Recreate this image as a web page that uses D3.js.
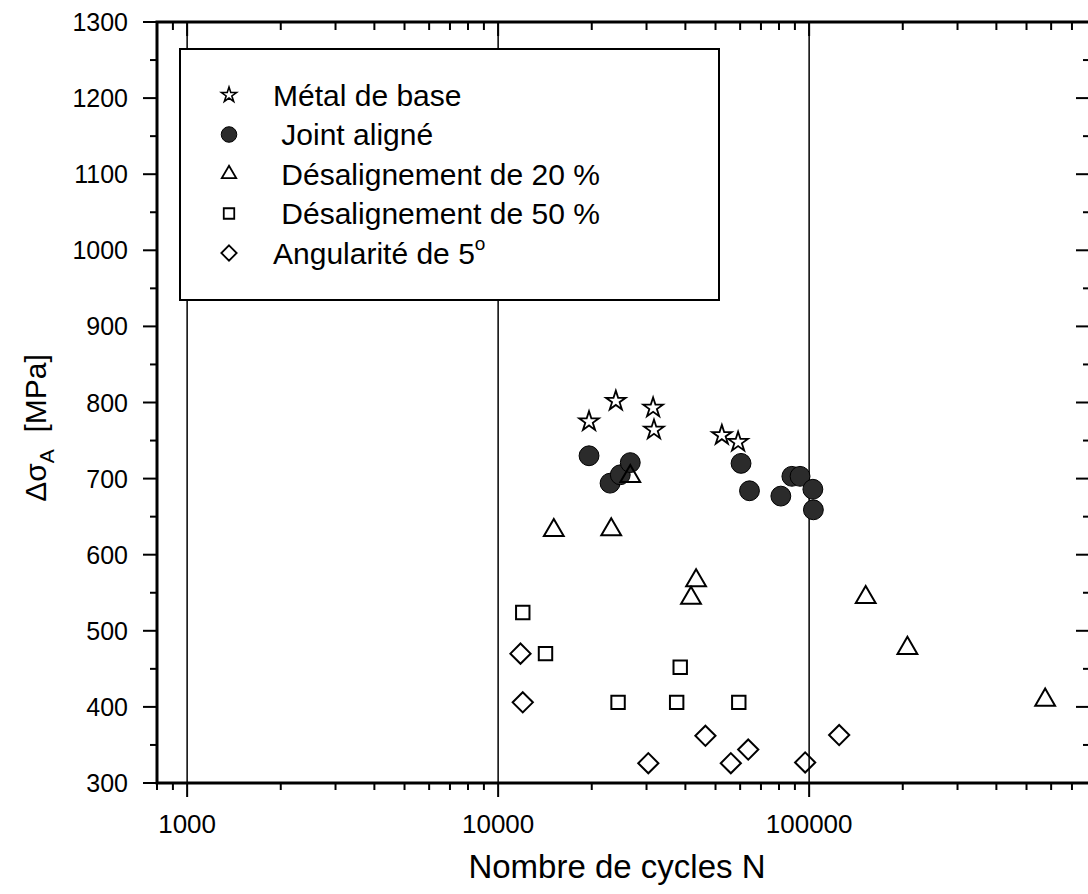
<!DOCTYPE html>
<html>
<head>
<meta charset="utf-8">
<script src="https://cdn.jsdelivr.net/npm/d3@7"></script>
<style>
  html, body { margin: 0; padding: 0; background: #fff; }
  svg { display: block; font-family: Arial, "Liberation Sans", Helvetica, sans-serif; }
  text { white-space: pre; }
</style>
</head>
<body>
<svg id="chart" width="1088" height="894"></svg>
<script>
// Fatigue test results: stress range vs number of cycles
const metalBaseN = [19600, 23900, 31500, 31700, 52400, 59100];
const metalBaseS = [775, 802, 793, 764, 757, 748];

const jointAligneN = [19600, 22900, 24700, 26600, 60400, 64300, 81100, 88000, 93500, 102800, 103200];
const jointAligneS = [730, 694, 705, 721, 720, 684, 677, 703, 703, 686, 659];

const desal20N = [15100, 23100, 26600, 41700, 43300, 152000, 207000, 574000];
const desal20S = [632, 633, 703, 543, 566, 544, 477, 409];

const desal50N = [12000, 14200, 24300, 37500, 38500, 59400];
const desal50S = [524, 470, 406, 406, 452, 406];

const angul5N = [11800, 12000, 30400, 46400, 56000, 63700, 97100, 124900];
const angul5S = [470, 406, 326, 362, 326, 344, 327, 363];

const legendLabels = ["Métal de base", " Joint aligné", " Désalignement de 20 %", " Désalignement de 50 %", "Angularité de 5"];

const xLabelTicks = [1000, 10000, 100000];
const yLabelTicks = [300, 400, 500, 600, 700, 800, 900, 1000, 1100, 1200, 1300];
const yMinorTicks = [350, 450, 550, 650, 750, 850, 950, 1050, 1150, 1250];

const xTitle = "Nombre de cycles N";

const svg = d3.select("#chart");
const plotLeft = 157, plotRight = 1090, plotTop = 22, plotBottom = 783;

const x = d3.scaleLog().domain([800, 800000]).range([plotLeft, plotRight]);
const y = d3.scaleLinear().domain([300, 1300]).range([plotBottom, plotTop]);

const ink = "#000";

// vertical grid lines at the decades
svg.append("g").selectAll("line").data(xLabelTicks).join("line")
  .attr("x1", d => x(d)).attr("x2", d => x(d))
  .attr("y1", plotTop).attr("y2", plotBottom)
  .attr("stroke", "#111").attr("stroke-width", 1.6);

// x ticks (log): majors at decades, minors at 2..9
const xAll = x.ticks().filter(d => d >= 800 && d <= 800000);
const isMajor = d => Math.abs(Math.log10(d) - Math.round(Math.log10(d))) < 1e-9;

const ticksG = svg.append("g").attr("stroke", ink).attr("stroke-width", 2);
// bottom, outward
ticksG.selectAll(".xb").data(xAll).join("line").attr("class", "xb")
  .attr("x1", d => x(d)).attr("x2", d => x(d))
  .attr("y1", plotBottom).attr("y2", d => plotBottom + (isMajor(d) ? 14 : 7));
// top, inward
ticksG.selectAll(".xt").data(xAll).join("line").attr("class", "xt")
  .attr("x1", d => x(d)).attr("x2", d => x(d))
  .attr("y1", plotTop).attr("y2", d => plotTop + (isMajor(d) ? 14 : 8));
// left, outward
ticksG.selectAll(".yl").data(yLabelTicks).join("line").attr("class", "yl")
  .attr("y1", d => y(d)).attr("y2", d => y(d))
  .attr("x1", plotLeft).attr("x2", plotLeft - 14);
ticksG.selectAll(".ylm").data(yMinorTicks).join("line").attr("class", "ylm")
  .attr("y1", d => y(d)).attr("y2", d => y(d))
  .attr("x1", plotLeft).attr("x2", plotLeft - 7);
// right, inward
ticksG.selectAll(".yr").data(yLabelTicks).join("line").attr("class", "yr")
  .attr("y1", d => y(d)).attr("y2", d => y(d))
  .attr("x1", plotRight).attr("x2", plotRight - 14);
ticksG.selectAll(".yrm").data(yMinorTicks).join("line").attr("class", "yrm")
  .attr("y1", d => y(d)).attr("y2", d => y(d))
  .attr("x1", plotRight).attr("x2", plotRight - 7);

// frame
svg.append("rect")
  .attr("x", plotLeft).attr("y", plotTop)
  .attr("width", plotRight - plotLeft).attr("height", plotBottom - plotTop)
  .attr("fill", "none").attr("stroke", ink).attr("stroke-width", 3);

// tick labels
svg.append("g").selectAll("text").data(yLabelTicks).join("text")
  .attr("x", plotLeft - 29).attr("y", d => y(d))
  .attr("dy", "0.36em")
  .attr("text-anchor", "end")
  .attr("font-size", 25)
  .attr("fill", ink)
  .text(d => d);

svg.append("g").selectAll("text").data(xLabelTicks).join("text")
  .attr("x", d => x(d)).attr("y", plotBottom + 50)
  .attr("text-anchor", "middle")
  .attr("font-size", 26)
  .attr("fill", ink)
  .text(d => d);

// axis titles
svg.append("text")
  .attr("x", 617).attr("y", 878)
  .attr("text-anchor", "middle")
  .attr("font-size", 33)
  .attr("fill", ink)
  .text(xTitle);

const yTitle = svg.append("text")
  .attr("transform", "translate(46,428) rotate(-90)")
  .attr("text-anchor", "middle")
  .attr("font-size", 30)
  .attr("fill", ink);
yTitle.append("tspan").text("Δσ");
yTitle.append("tspan").attr("font-size", 21).attr("dy", 8).text("A");
yTitle.append("tspan").attr("dy", -8).text("  [MPa]");

// marker symbols per series
const markers = [
  { N: metalBaseN, S: metalBaseS, path: d3.symbol().type(d3.symbolStar).size(120)(), fill: "none", sw: 1.8 },
  { N: jointAligneN, S: jointAligneS, path: d3.symbol().type(d3.symbolCircle).size(310)(), fill: "#2b2b2b", sw: 1 },
  { N: desal20N, S: desal20S, path: d3.symbol().type(d3.symbolTriangle).size(170)(), fill: "none", sw: 2 },
  { N: desal50N, S: desal50S, path: d3.symbol().type(d3.symbolSquare).size(180)(), fill: "none", sw: 2 },
  { N: angul5N, S: angul5S, path: d3.symbol().type(d3.symbolDiamond2).size(260)(), fill: "none", sw: 2 }
];

markers.forEach(m => {
  svg.append("g").selectAll("path").data(d3.range(m.N.length)).join("path")
    .attr("d", m.path)
    .attr("transform", k => `translate(${x(m.N[k])},${y(m.S[k])})`)
    .attr("fill", m.fill)
    .attr("stroke", ink)
    .attr("stroke-width", m.sw)
    .attr("stroke-linejoin", "miter");
});

// legend
const lg = svg.append("g");
lg.append("rect")
  .attr("x", 180).attr("y", 49).attr("width", 539).attr("height", 251)
  .attr("fill", "#fff").attr("stroke", ink).attr("stroke-width", 2);

const legendSyms = [
  { path: d3.symbol().type(d3.symbolStar).size(70)(), fill: "none", sw: 1.6 },
  { path: d3.symbol().type(d3.symbolCircle).size(190)(), fill: "#2b2b2b", sw: 1 },
  { path: d3.symbol().type(d3.symbolTriangle).size(90)(), fill: "none", sw: 1.8 },
  { path: d3.symbol().type(d3.symbolSquare).size(110)(), fill: "none", sw: 1.8 },
  { path: d3.symbol().type(d3.symbolDiamond2).size(150)(), fill: "none", sw: 1.8 }
];

const rowY = d3.scalePoint().domain(d3.range(legendLabels.length)).range([95, 253]);
legendLabels.forEach((lab, i) => {
  const s = legendSyms[i];
  lg.append("path")
    .attr("d", s.path)
    .attr("transform", `translate(229,${rowY(i)})`)
    .attr("fill", s.fill).attr("stroke", ink).attr("stroke-width", s.sw);
  const t = lg.append("text")
    .attr("x", 273).attr("y", rowY(i))
    .attr("dy", "0.36em")
    .attr("font-size", 30)
    .attr("fill", ink)
    .text(lab);
  if (i === legendLabels.length - 1) {
    t.append("tspan").attr("font-size", 19).attr("dy", -14).text("o");
  }
});
</script>
</body>
</html>
